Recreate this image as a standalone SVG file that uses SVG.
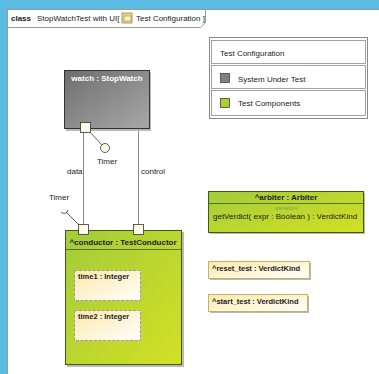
<svg xmlns="http://www.w3.org/2000/svg" width="379" height="374" viewBox="0 0 379 374">
<defs>
<linearGradient id="gGray" x1="0" y1="0" x2="1" y2="1"><stop offset="0" stop-color="#6e6e6e"/><stop offset="1" stop-color="#a8a8a8"/></linearGradient>
<linearGradient id="gGreen" x1="0" y1="0" x2="1" y2="1"><stop offset="0" stop-color="#a2cc3a"/><stop offset="1" stop-color="#d4e024"/></linearGradient>
<linearGradient id="gCream" x1="0" y1="0" x2="1" y2="1"><stop offset="0" stop-color="#fde9a8"/><stop offset="1" stop-color="#ffffff"/></linearGradient>
<linearGradient id="gPort" x1="0" y1="0" x2="1" y2="1"><stop offset="0" stop-color="#fdf6d2"/><stop offset="1" stop-color="#ffffff"/></linearGradient>
</defs>
<style>
text{font-family:"Liberation Sans",Arial,sans-serif;font-size:8px;fill:#222}
.b{font-weight:bold}
.shadow{fill:#b9b9b9}
.port{fill:url(#gPort);stroke:#333;stroke-width:0.8}
.conn{stroke:#8a8a8a;stroke-width:1;fill:none}
.leg{fill:#fff;stroke:#8a8a8a;stroke-width:0.8}
</style>
<rect x="0" y="0" width="379" height="374" fill="#5abce2"/>
<rect x="7.5" y="9.5" width="372" height="365" fill="#fff" stroke="#9a9a9a"/>
<path d="M7.5 27.5 H200.5 L205.5 22.5 V9.5" fill="none" stroke="#9a9a9a"/>
<text x="11" y="21" class="b">class</text>
<text x="37" y="21">StopWatchTest with UI[</text>
<g id="icon"><rect x="122" y="13" width="10" height="10" fill="#e9d98a" stroke="#8a7a3a" stroke-width="0.7"/><rect x="124" y="16" width="7" height="5" fill="#fff5c8" stroke="#8a7a3a" stroke-width="0.5"/></g>
<text x="136" y="21">Test Configuration ]</text>

<g id="legend">
<rect x="209.5" y="37.5" width="158" height="81" fill="#fff" stroke="#8a8a8a"/>
<rect class="leg" x="211.5" y="40.5" width="154" height="23"/>
<rect class="leg" x="211.5" y="65.5" width="154" height="23"/>
<rect class="leg" x="211.5" y="90.5" width="154" height="25"/>
<text x="220" y="56">Test Configuration</text>
<rect x="220.5" y="73.5" width="9" height="9" fill="#808080" stroke="#444" stroke-width="0.8"/>
<text x="238" y="82">System Under Test</text>
<rect x="220.5" y="98.5" width="9" height="9" fill="#a8d030" stroke="#444" stroke-width="0.8"/>
<text x="238" y="106">Test Components</text>
</g>

<g id="connectors">
<line class="conn" x1="83.5" y1="132" x2="83.5" y2="224"/>
<line class="conn" x1="138.5" y1="128" x2="138.5" y2="224"/>
<text x="67" y="174">data</text>
<text x="141" y="174">control</text>
<line x1="89" y1="131" x2="102" y2="145" stroke="#333" stroke-width="0.8"/>
<circle cx="105" cy="148" r="4.5" fill="#fffbe8" stroke="#333" stroke-width="0.8"/>
<text x="97" y="164">Timer</text>
<line x1="79" y1="225" x2="66" y2="212" stroke="#333" stroke-width="0.8"/>
<path d="M61 212 A4 4 0 0 0 68 210" fill="none" stroke="#333" stroke-width="0.8"/>
<text x="49" y="200">Timer</text>
</g>

<g id="watch">
<rect x="66" y="72" width="85" height="59" class="shadow"/>
<rect x="64.5" y="70.5" width="85" height="58" fill="url(#gGray)" stroke="#333"/>
<text x="107" y="81" text-anchor="middle" class="b" fill="#fff" style="fill:#fff">watch : StopWatch</text>
<rect class="port" x="80.5" y="122.5" width="10" height="10"/>
</g>

<g id="conductor">
<rect x="67" y="232" width="117" height="135" class="shadow"/>
<rect x="65.5" y="230.5" width="116" height="134" fill="url(#gGreen)" stroke="#3f5a12"/>
<text x="123" y="245" text-anchor="middle" class="b">^conductor : TestConductor</text>
<line x1="65.5" y1="249.5" x2="181.5" y2="249.5" stroke="#3f5a12" stroke-width="0.8"/>
<rect class="port" x="78.5" y="224.5" width="10" height="10"/>
<rect class="port" x="133.5" y="224.5" width="10" height="10"/>
<g id="time1">
<rect x="74.5" y="270.5" width="66" height="30" fill="url(#gCream)" stroke="#999" stroke-dasharray="3,1.5"/>
<text x="78" y="279" class="b" style="font-size:7.5px">time1 : Integer</text>
</g>
<g id="time2">
<rect x="74.5" y="310.5" width="66" height="30" fill="url(#gCream)" stroke="#999" stroke-dasharray="3,1.5"/>
<text x="78" y="319" class="b" style="font-size:7.5px">time2 : Integer</text>
</g>
</g>

<g id="arbiter">
<rect x="210" y="193" width="155" height="41" class="shadow"/>
<rect x="208.5" y="191.5" width="155" height="41" fill="url(#gGreen)" stroke="#3f5a12"/>
<text x="286" y="200" text-anchor="middle" class="b">^arbiter : Arbiter</text>
<line x1="208.5" y1="203.5" x2="363.5" y2="203.5" stroke="#3f5a12" stroke-width="0.8"/>
<text x="286" y="210" text-anchor="middle" style="font-size:5px;font-style:italic;fill:#8a9a60">operations</text>
<text x="213" y="219">getVerdict( expr : Boolean ) : VerdictKind</text>
</g>

<g id="reset_test">
<rect x="210" y="263" width="101" height="17" class="shadow"/>
<rect x="208.5" y="261.5" width="101" height="17" fill="url(#gCream)" stroke="#c8b060"/>
<text x="212" y="271" class="b" style="font-size:7.5px">^reset_test : VerdictKind</text>
</g>
<g id="start_test">
<rect x="210" y="296" width="99" height="17" class="shadow"/>
<rect x="208.5" y="294.5" width="99" height="17" fill="url(#gCream)" stroke="#c8b060"/>
<text x="212" y="304" class="b" style="font-size:7.5px">^start_test : VerdictKind</text>
</g>
</svg>
